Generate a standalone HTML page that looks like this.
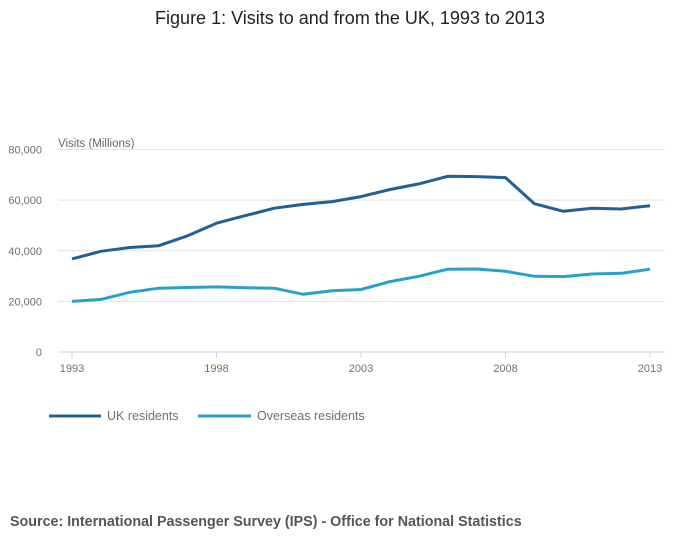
<!DOCTYPE html>
<html><head><meta charset="utf-8"><style>
body{margin:0;background:#fff;font-family:"Liberation Sans",sans-serif;}
svg text{font-family:"Liberation Sans",sans-serif;}
</style></head><body>
<svg id="chart" width="700" height="549" viewBox="0 0 700 549">
<text x="350" y="24" text-anchor="middle" font-size="18" fill="#222">Figure 1: Visits to and from the UK, 1993 to 2013</text>
<text x="58" y="147" font-size="11.5" fill="#666">Visits (Millions)</text>
<g id="grid"></g><g id="axes"></g><g id="series"></g>
<g>
<line x1="49" y1="416" x2="101" y2="416" stroke="#206095" stroke-width="3"/>
<text x="107" y="420" font-size="12.5" fill="#707070">UK residents</text>
<line x1="198" y1="416" x2="251" y2="416" stroke="#27a0cc" stroke-width="3"/>
<text x="257" y="420" font-size="12.5" fill="#707070">Overseas residents</text>
</g>
<text x="10" y="526" font-size="14.3" font-weight="bold" fill="#555">Source: International Passenger Survey (IPS) - Office for National Statistics</text>
</svg>
<script>
const years=[1993,1994,1995,1996,1997,1998,1999,2000,2001,2002,2003,2004,2005,2006,2007,2008,2009,2010,2011,2012,2013];
const ukResidents=[36800,39800,41300,42000,45900,50900,53900,56800,58300,59400,61400,64200,66400,69400,69300,68900,58600,55600,56800,56500,57800];
const overseasResidents=[20000,20800,23600,25200,25500,25700,25400,25200,22800,24200,24700,27800,29900,32700,32800,31900,29900,29800,30800,31100,32700];
const yTicks=[0,20000,40000,60000,80000];
const xTickYears=[1993,1998,2003,2008,2013];
const NS='http://www.w3.org/2000/svg';
function x(v){return 72+(v-1993)*(650-72)/20;}
function y(v){return 352-v*(352-149.5)/80000;}
function mk(t,a,p){const e=document.createElementNS(NS,t);for(const k in a)e.setAttribute(k,a[k]);p.appendChild(e);return e;}
const grid=document.getElementById('grid'),axes=document.getElementById('axes'),series=document.getElementById('series');
yTicks.forEach(v=>{
 if(v>0){const l=mk('line',{x1:58,x2:665,y1:y(v),y2:y(v),stroke:'#e2e2e2','stroke-width':1},grid);
 
 }
 const t=mk('text',{x:42,y:y(v)+4,'text-anchor':'end','font-size':11,fill:'#707070'},axes);
 t.textContent=v.toLocaleString('en-US');
 
 
});
const ax=mk('line',{x1:58,x2:665,y1:352,y2:352,stroke:'#c6d4e6','stroke-width':1},axes);


xTickYears.forEach(v=>{
 const tk=mk('line',{x1:x(v),x2:x(v),y1:352,y2:358,stroke:'#c6d4e6'},axes);
 
 
 const t=mk('text',{x:x(v),y:372,'text-anchor':'middle','font-size':11,fill:'#707070'},axes);
 t.textContent=v;
 
 
});
function line(vals,color,name){
 const d=vals.map((v,i)=>(i?'L':'M')+x(years[i]).toFixed(1)+' '+y(v).toFixed(1)).join(' ');
 const p=mk('path',{d:d,fill:'none',stroke:color,'stroke-width':3,'stroke-linejoin':'round'},series);
 
 
}
line(overseasResidents,'#27a0cc','overseas-residents-line');
line(ukResidents,'#206095','uk-residents-line');
</script>
</body></html>
